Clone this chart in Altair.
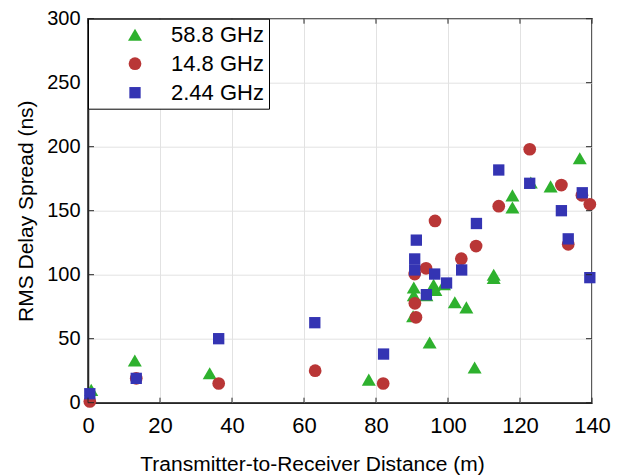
import altair as alt
import pandas as pd

# ---- data ----
series_names = ["58.8 GHz", "14.8 GHz", "2.44 GHz"]

g_x = [0.9, 13.0, 33.8, 78.0, 90.5, 90.5, 90.3, 94.0, 94.9, 96.0, 96.5, 98.9,
       101.9, 105.1, 107.4, 112.7, 112.7, 117.9, 117.9, 123.0, 128.5, 136.6]
g_y = [10, 33, 23, 18, 90, 84, 67.5, 84, 47, 92, 88, 92.5,
       78.5, 74.5, 27.5, 100, 97.5, 162, 152.5, 172, 169, 191]

r_x = [0.5, 13.4, 36.3, 63.1, 82.0, 90.75, 90.8, 91.1, 93.9, 96.4, 103.7,
       107.8, 114.1, 122.7, 131.5, 133.4, 137.2, 139.4]
r_y = [1, 19, 15, 25, 15, 100.5, 77.6, 66.7, 105, 142, 112.5,
       122.4, 153.5, 198, 170, 123.7, 162, 155]

b_x = [0.5, 13.4, 36.3, 63.0, 82.1, 90.75, 90.75, 91.2, 94.0, 96.3, 99.6,
       103.8, 107.9, 114.1, 122.7, 131.5, 133.4, 137.3, 139.4]
b_y = [7, 19, 50, 62.5, 38, 103.7, 112.3, 127, 84.4, 100.5, 93.5,
       103.7, 140, 181.8, 171.4, 150, 128, 164, 97.7]

x_ticks = [0, 20, 40, 60, 80, 100, 120, 140]
y_ticks = [0, 50, 100, 150, 200, 250, 300]

rows = []
for name, xs, ys in zip(series_names, [g_x, r_x, b_x], [g_y, r_y, b_y]):
    for xv, yv in zip(xs, ys):
        rows.append({"series": name, "dist": xv, "rms": yv})
df = pd.DataFrame(rows)

W, H = 504, 384
FONT = "Liberation Sans"

xscale = alt.Scale(domain=[0, 140], nice=False)
yscale = alt.Scale(domain=[0, 300], nice=False)
xaxis = alt.Axis(values=x_ticks, title="Transmitter-to-Receiver Distance (m)",
                 grid=True, labelFlush=False, titleX=224, labelFontSize=22,
                 labelPadding=13, titlePadding=17)
yaxis = alt.Axis(values=y_ticks, title="RMS Delay Spread (ns)", grid=True,
                 labelFlush=False, labelFontSize=20, labelPadding=8,
                 titlePadding=10)

points = alt.Chart(df).mark_point(filled=True, opacity=1, clip=False).encode(
    x=alt.X("dist:Q", scale=xscale, axis=xaxis),
    y=alt.Y("rms:Q", scale=yscale, axis=yaxis),
    color=alt.Color("series:N",
                    scale=alt.Scale(domain=series_names,
                                    range=["#2eb12e", "#b93636", "#3434b3"]),
                    legend=alt.Legend(title=None)),
    shape=alt.Shape("series:N",
                    scale=alt.Scale(domain=series_names,
                                    range=["triangle-up", "circle", "square"]),
                    legend=alt.Legend(title=None)),
    size=alt.Size("series:N",
                  scale=alt.Scale(domain=series_names, range=[196, 128, 100]),
                  legend=alt.Legend(title=None)),
)

yt = pd.DataFrame({"v": y_ticks})
xt = pd.DataFrame({"v": x_ticks})
tick_color = "#262626"
yl = alt.Chart(yt).mark_rule(color=tick_color, strokeWidth=1).encode(
    y=alt.Y("v:Q", scale=yscale, axis=yaxis), x=alt.value(0), x2=alt.value(6))
yr = alt.Chart(yt).mark_rule(color=tick_color, strokeWidth=1).encode(
    y=alt.Y("v:Q", scale=yscale, axis=yaxis), x=alt.value(W - 6), x2=alt.value(W))
xb = alt.Chart(xt).mark_rule(color=tick_color, strokeWidth=1).encode(
    x=alt.X("v:Q", scale=xscale, axis=xaxis), y=alt.value(H - 5), y2=alt.value(H))
xtp = alt.Chart(xt).mark_rule(color=tick_color, strokeWidth=1).encode(
    x=alt.X("v:Q", scale=xscale, axis=xaxis), y=alt.value(0), y2=alt.value(5))

chart = alt.layer(points, yl, yr, xb, xtp).properties(
    width=W, height=H,
    autosize=alt.AutoSizeParams(type="none"),
    padding={"left": 80, "top": 10.7, "right": 22, "bottom": 74},
).configure_view(
    stroke="#262626", strokeWidth=1.5
).configure_axis(
    labelFont=FONT, titleFont=FONT, titleFontSize=21,
    labelColor="#000000", titleColor="#000000", titleFontWeight="normal",
    domainColor="#262626", domainWidth=1.5, tickSize=0,
    gridColor="#e2e2e2", gridWidth=1,
).configure_legend(
    orient="top-left", offset=0, padding=5, strokeColor="#000000", strokeWidth=1,
    fillColor="#ffffff", labelFont=FONT, labelFontSize=22, labelColor="#000000",
    symbolOffset=31, labelOffset=25, rowPadding=7, symbolStrokeWidth=0,
    cornerRadius=0,
)

chart.save("out.html", embed_options={"renderer": "svg", "actions": False})
